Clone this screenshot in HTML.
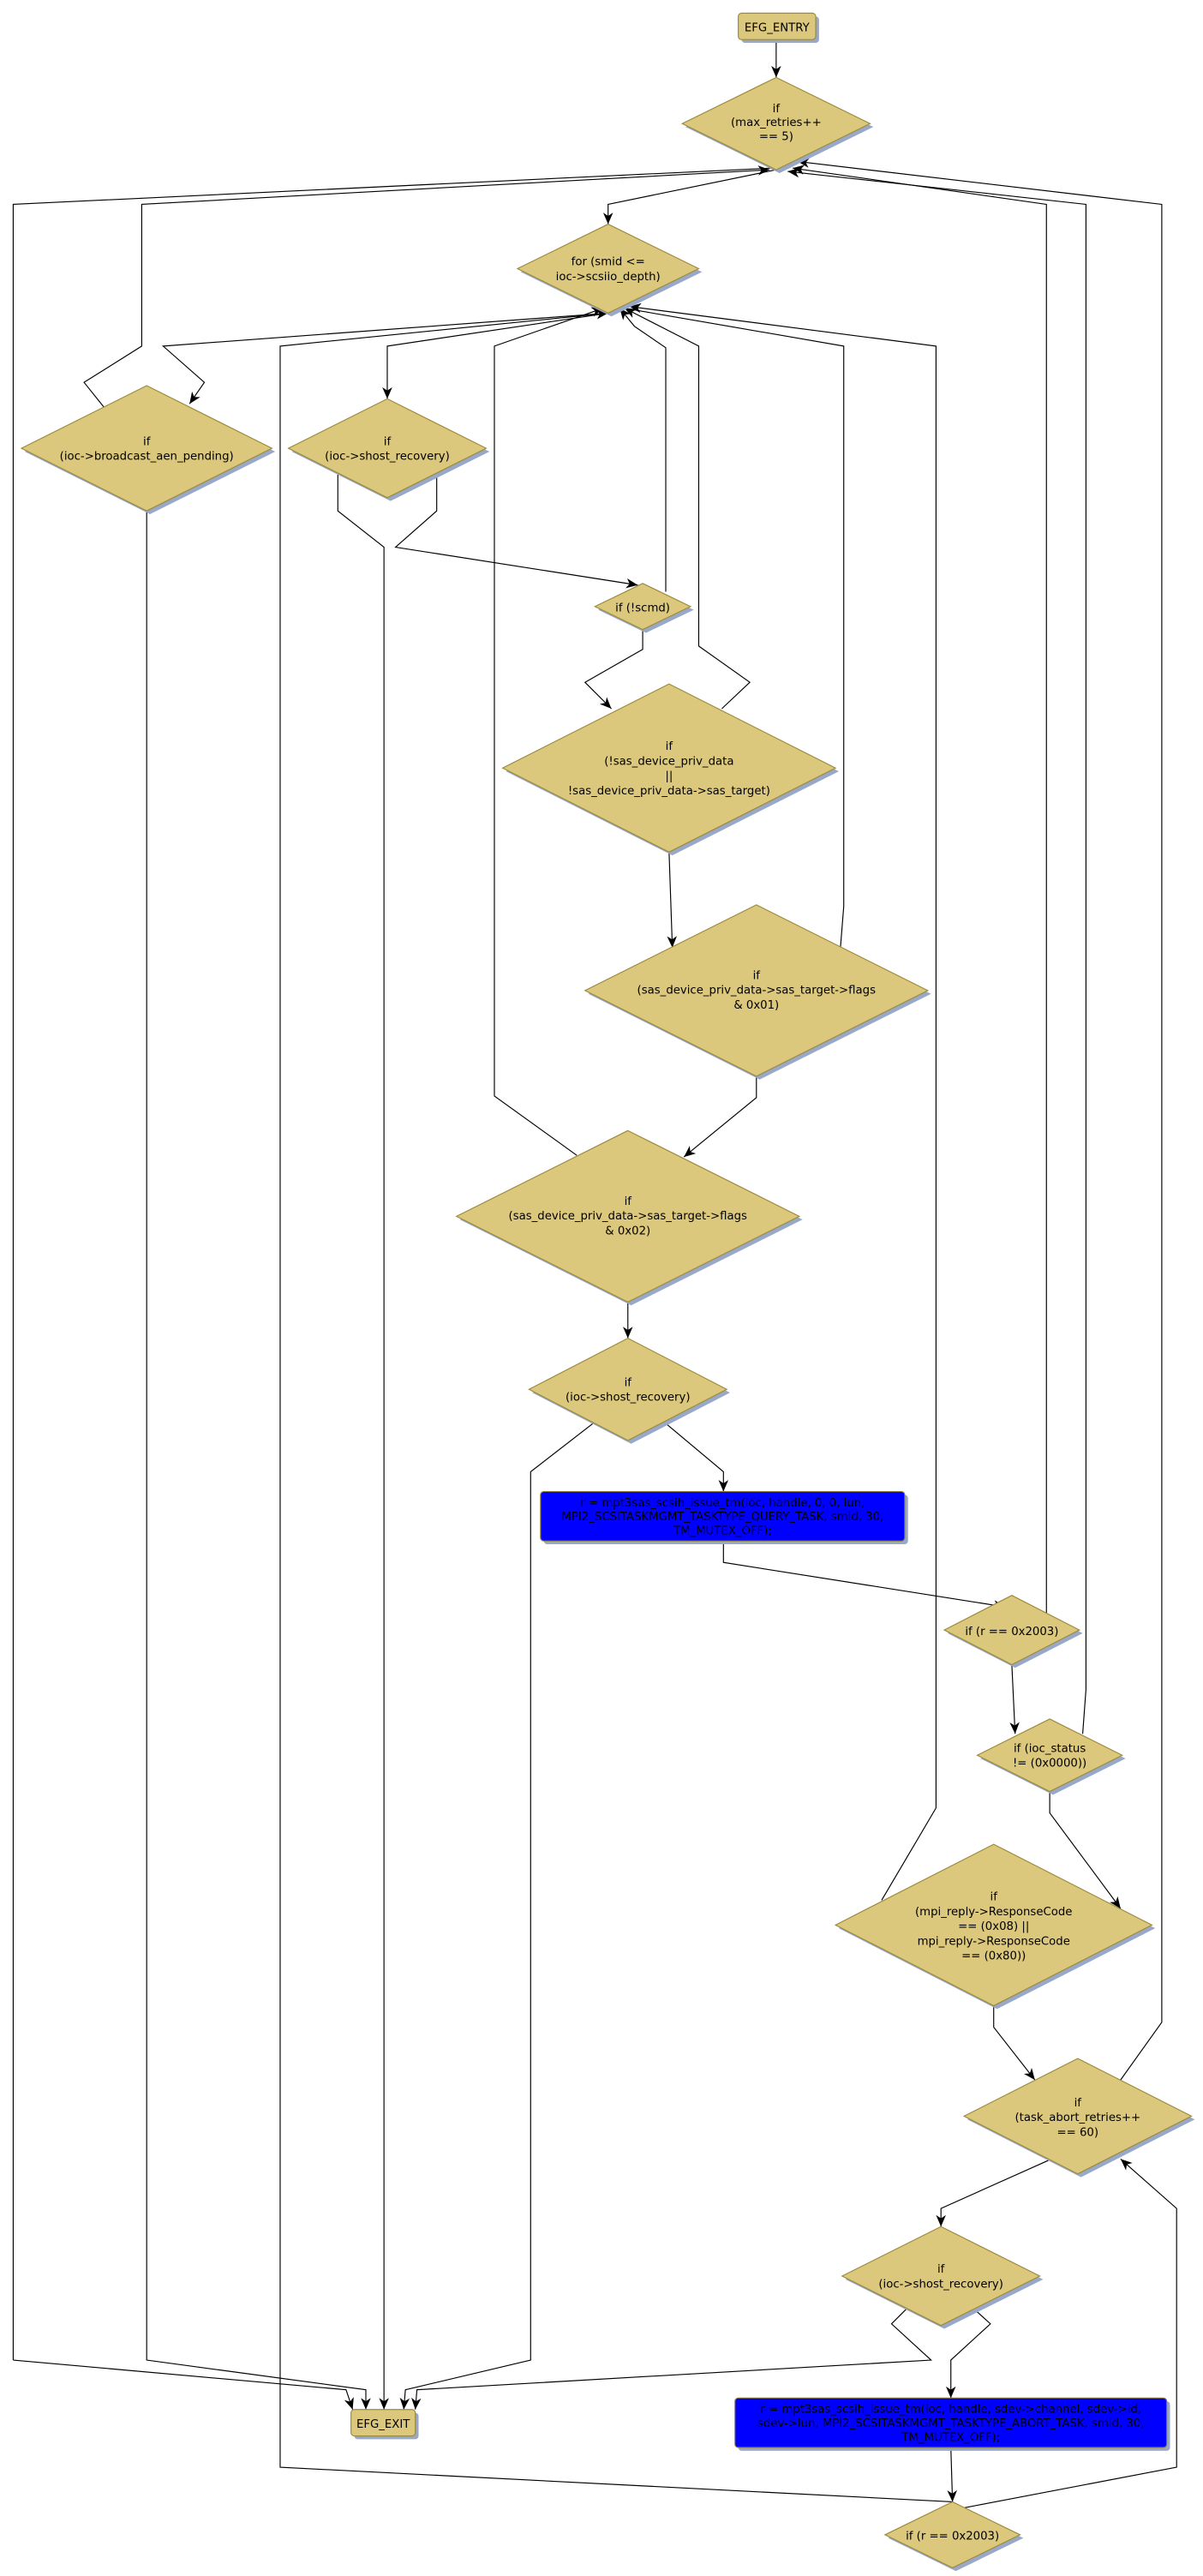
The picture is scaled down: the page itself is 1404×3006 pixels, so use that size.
<!DOCTYPE html>
<html><head><meta charset="utf-8"><style>
html,body{margin:0;padding:0;background:#fff;}
svg{display:block;}
text{font-family:"DejaVu Sans","Liberation Sans",sans-serif;font-size:6.9px;fill:#000;text-anchor:middle;}
.n{fill:#dbc87c;stroke:#9c8a3c;stroke-width:0.6;}
.s{fill:#98a8c8;}
.b{fill:#0000ff;stroke:#8c7a30;stroke-width:0.6;}
.e{fill:none;stroke:#000;stroke-width:0.6;}
</style></head><body>
<svg width="1404" height="3006" viewBox="0 0 730 1563" xmlns="http://www.w3.org/2000/svg">
<defs>
<marker id="a" markerWidth="8" markerHeight="8" refX="7" refY="3" orient="auto" markerUnits="userSpaceOnUse">
<path d="M0,0 L7,3 L0,6 L2,3 z" fill="#000"/></marker>
</defs>
<g class="e" marker-end="url(#a)">
<polyline points="471,24 471,47"/>
<polyline points="471,103 369,124 369,136"/>
<polyline points="8,1432 8,124 468,102" marker-end="none"/>
<polyline points="8,1432 210,1450 214,1462"/>
<polyline points="63,247 51,232 86,210 86,124 467,103"/>
<polyline points="369,190 99,210 124,232 115,245"/>
<polyline points="89,310 89,1432 222,1450 222,1462"/>
<polyline points="369,190 235,210 235,242"/>
<polyline points="205,288 205,310 233,332 233,1462"/>
<polyline points="265,288 265,310 240,332 387,355"/>
<polyline points="404,359 404,211 385,198 376,187"/>
<polyline points="390,382 390,394 355,414 371,430"/>
<polyline points="438,430 455,414 424,392 424,210 379,187"/>
<polyline points="406,517 408,575"/>
<polyline points="510,575 512,550 512,210 373,186"/>
<polyline points="459,653 459,666 415,702"/>
<polyline points="350,701 300,665 300,210 366,187"/>
<polyline points="381,790 381,812"/>
<polyline points="362,862 322,893 322,1432 246,1450 245,1462"/>
<polyline points="402,862 439,893 439,905"/>
<polyline points="439,935 439,948 610,975"/>
<polyline points="635,980 635,124 481,102"/>
<polyline points="614,1010 616,1052"/>
<polyline points="657,1052 659,1025 659,124 478,104"/>
<polyline points="637,1087 637,1100 680,1158"/>
<polyline points="535,1153 568,1097 568,210 382,186"/>
<polyline points="603,1217 603,1230 628,1262"/>
<polyline points="680,1262 705,1227 705,124 484,98"/>
<polyline points="638,1310 571,1340 571,1351"/>
<polyline points="553,1398 541,1410 565,1432 253,1450 252,1462"/>
<polyline points="590,1400 601,1410 577,1432 577,1455"/>
<polyline points="577,1485 578,1518"/>
<polyline points="578,1518 170,1497 170,210 369,190"/>
<polyline points="583,1522 714,1497 714,1340 680,1310"/>
</g>
<g>
<rect class="s" x="450" y="10" width="47" height="16" rx="2"/>
<rect class="n" x="448" y="8" width="47" height="16" rx="2"/>
<text x="471.5" y="19">EFG_ENTRY</text>

<polygon class="s" points="473,49 530,77 473,105 416,77"/>
<polygon class="n" points="471,47 528,75 471,103 414,75"/>
<text x="471" y="68">if</text><text x="471" y="76.5">(max_retries++</text><text x="471" y="85">== 5)</text>

<polygon class="s" points="371,138 426,165 371,192 316,165"/>
<polygon class="n" points="369,136 424,163 369,190 314,163"/>
<text x="369" y="161">for (smid &lt;=</text><text x="369" y="170">ioc-&gt;scsiio_depth)</text>

<polygon class="s" points="91,236 167,274 91,312 15,274"/>
<polygon class="n" points="89,234 165,272 89,310 13,272"/>
<text x="89" y="270">if</text><text x="89" y="279">(ioc-&gt;broadcast_aen_pending)</text>

<polygon class="s" points="237,244 297,274 237,304 177,274"/>
<polygon class="n" points="235,242 295,272 235,302 175,272"/>
<text x="235" y="270">if</text><text x="235" y="279">(ioc-&gt;shost_recovery)</text>

<polygon class="s" points="392,356 421,370 392,384 363,370"/>
<polygon class="n" points="390,354 419,368 390,382 361,368"/>
<text x="390" y="371">if (!scmd)</text>

<polygon class="s" points="408,417 509,468 408,519 307,468"/>
<polygon class="n" points="406,415 507,466 406,517 305,466"/>
<text x="406" y="455">if</text><text x="406" y="464">(!sas_device_priv_data</text><text x="406" y="473">||</text><text x="406" y="482">!sas_device_priv_data-&gt;sas_target)</text>

<polygon class="s" points="461,551 565,603 461,655 357,603"/>
<polygon class="n" points="459,549 563,601 459,653 355,601"/>
<text x="459" y="594">if</text><text x="459" y="603">(sas_device_priv_data-&gt;sas_target-&gt;flags</text><text x="459" y="612">&amp; 0x01)</text>

<polygon class="s" points="383,688 487,740 383,792 279,740"/>
<polygon class="n" points="381,686 485,738 381,790 277,738"/>
<text x="381" y="731">if</text><text x="381" y="740">(sas_device_priv_data-&gt;sas_target-&gt;flags</text><text x="381" y="749">&amp; 0x02)</text>

<polygon class="s" points="383,814 443,845 383,876 323,845"/>
<polygon class="n" points="381,812 441,843 381,874 321,843"/>
<text x="381" y="841">if</text><text x="381" y="850">(ioc-&gt;shost_recovery)</text>

<rect class="s" x="330" y="907" width="221" height="30" rx="2"/>
<rect class="b" x="328" y="905" width="221" height="30" rx="2"/>
<text x="438.5" y="914">r = mpt3sas_scsih_issue_tm(ioc, handle, 0, 0, lun,</text>
<text x="438.5" y="922.5">MPI2_SCSITASKMGMT_TASKTYPE_QUERY_TASK, smid, 30,</text>
<text x="438.5" y="931">TM_MUTEX_OFF);</text>

<polygon class="s" points="616,970 657,991 616,1012 575,991"/>
<polygon class="n" points="614,968 655,989 614,1010 573,989"/>
<text x="614" y="992">if (r == 0x2003)</text>

<polygon class="s" points="639,1045 683,1067 639,1089 595,1067"/>
<polygon class="n" points="637,1043 681,1065 637,1087 593,1065"/>
<text x="637" y="1063">if (ioc_status</text><text x="637" y="1072">!= (0x0000))</text>

<polygon class="s" points="605,1121 701,1170 605,1219 509,1170"/>
<polygon class="n" points="603,1119 699,1168 603,1217 507,1168"/>
<text x="603" y="1153">if</text><text x="603" y="1162">(mpi_reply-&gt;ResponseCode</text><text x="603" y="1171">== (0x08) ||</text><text x="603" y="1180">mpi_reply-&gt;ResponseCode</text><text x="603" y="1189">== (0x80))</text>

<polygon class="s" points="656,1251 725,1286 656,1321 587,1286"/>
<polygon class="n" points="654,1249 723,1284 654,1319 585,1284"/>
<text x="654" y="1278">if</text><text x="654" y="1287">(task_abort_retries++</text><text x="654" y="1296">== 60)</text>

<polygon class="s" points="573,1353 633,1383 573,1413 513,1383"/>
<polygon class="n" points="571,1351 631,1381 571,1411 511,1381"/>
<text x="571" y="1379">if</text><text x="571" y="1388">(ioc-&gt;shost_recovery)</text>

<rect class="s" x="215" y="1464" width="39" height="16" rx="2"/>
<rect class="n" x="213" y="1462" width="39" height="16" rx="2"/>
<text x="232.5" y="1473">EFG_EXIT</text>

<rect class="s" x="448" y="1457" width="262" height="30" rx="2"/>
<rect class="b" x="446" y="1455" width="262" height="30" rx="2"/>
<text x="577" y="1464">r = mpt3sas_scsih_issue_tm(ioc, handle, sdev-&gt;channel, sdev-&gt;id,</text>
<text x="577" y="1472.5">sdev-&gt;lun, MPI2_SCSITASKMGMT_TASKTYPE_ABORT_TASK, smid, 30,</text>
<text x="577" y="1481">TM_MUTEX_OFF);</text>

<polygon class="s" points="580,1520 621,1540 580,1560 539,1540"/>
<polygon class="n" points="578,1518 619,1538 578,1558 537,1538"/>
<text x="578" y="1541">if (r == 0x2003)</text>
</g>
</svg>
</body></html>
